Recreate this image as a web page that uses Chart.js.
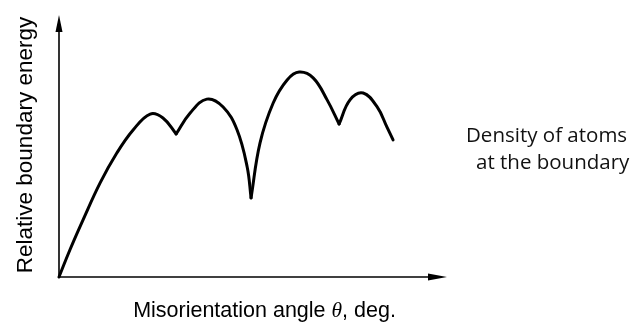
<!DOCTYPE html>
<html>
<head>
<meta charset="utf-8">
<script src="https://cdn.jsdelivr.net/npm/chart.js@4"></script>
<style>
  html, body { margin: 0; padding: 0; background: #fff; }
  #wrap { width: 637px; height: 324px; position: relative; }
</style>
</head>
<body>
<div id="wrap"><canvas id="c" width="637" height="324"></canvas></div>
<script>
// Misorientation angle (arbitrary units, 0-100 along the x axis) and relative energy (0-100)
const arc1X = [0, 2.8, 6.2, 10.6, 14.9, 19.1, 23.5, 26.8, 30.2];
const arc1Y = [0, 10.3, 21.8, 35.9, 47.3, 56.1, 62.2, 60.7, 54.6];
const arc2X = [30.2, 33.8, 38.1, 42.3, 45.9, 48.5, 49.5];
const arc2Y = [54.6, 62.6, 67.9, 64.9, 56.1, 42.0, 30.2];
const arc3X = [49.5, 51.8, 55.2, 58.8, 61.9, 65.5, 69.1, 72.2];
const arc3Y = [30.2, 51.1, 66.4, 75.2, 78.2, 76.0, 67.6, 58.4];
const arc4X = [72.2, 75.0, 78.4, 82.0, 84.5, 86.1];
const arc4Y = [58.4, 67.6, 70.2, 64.9, 57.3, 52.3];

const yLabel = 'Relative boundary energy';
const xLabelPre = 'Misorientation angle ';
const xLabelSym = 'θ';
const xLabelPost = ', deg.';
const noteLines = ['Density of atoms', 'at the boundary'];

function pts(xs, ys) { return xs.map((x, i) => ({ x: x, y: ys[i] })); }
function ds(xs, ys) {
  return {
    data: pts(xs, ys),
    borderColor: '#000',
    borderWidth: 3,
    pointRadius: 0,
    fill: false,
    tension: 0.4,
    borderCapStyle: 'round',
    clip: false
  };
}

const decor = {
  id: 'decor',
  afterDraw(chart) {
    const ctx = chart.ctx;
    const a = chart.chartArea;
    ctx.save();
    ctx.strokeStyle = '#000';
    ctx.fillStyle = '#000';
    ctx.lineWidth = 1.6;
    // y axis
    ctx.beginPath();
    ctx.moveTo(a.left, a.bottom);
    ctx.lineTo(a.left, a.top + 12);
    ctx.stroke();
    ctx.beginPath();
    ctx.moveTo(a.left, a.top);
    ctx.lineTo(a.left - 3.5, a.top + 17);
    ctx.lineTo(a.left + 3.5, a.top + 17);
    ctx.closePath();
    ctx.fill();
    // x axis
    ctx.beginPath();
    ctx.moveTo(a.left, a.bottom);
    ctx.lineTo(a.right - 12, a.bottom);
    ctx.stroke();
    ctx.beginPath();
    ctx.moveTo(a.right, a.bottom);
    ctx.lineTo(a.right - 19, a.bottom - 3.5);
    ctx.lineTo(a.right - 19, a.bottom + 3.5);
    ctx.closePath();
    ctx.fill();

    // y label
    ctx.save();
    ctx.font = '22.5px "Liberation Sans", Arial, sans-serif';
    ctx.textAlign = 'center';
    ctx.textBaseline = 'alphabetic';
    ctx.translate(32, 145);
    ctx.rotate(-Math.PI / 2);
    ctx.fillText(yLabel, 0, 0);
    ctx.restore();

    // x label
    const fSans = '21.5px "Liberation Sans", Arial, sans-serif';
    const fSym = 'italic 21.5px "Liberation Serif", "Times New Roman", serif';
    ctx.textAlign = 'left';
    ctx.textBaseline = 'alphabetic';
    ctx.font = fSans;
    const w1 = ctx.measureText(xLabelPre).width;
    const w3 = ctx.measureText(xLabelPost).width;
    ctx.font = fSym;
    const w2 = ctx.measureText(xLabelSym).width;
    let x0 = 264.5 - (w1 + w2 + w3) / 2;
    const yb = 317;
    ctx.font = fSans; ctx.fillText(xLabelPre, x0, yb);
    ctx.font = fSym; ctx.fillText(xLabelSym, x0 + w1, yb);
    ctx.font = fSans; ctx.fillText(xLabelPost, x0 + w1 + w2, yb);

    // note
    ctx.font = '20.5px "Open Sans", sans-serif';
    ctx.fillStyle = '#111';
    ctx.fillText(noteLines[0], 466, 142);
    ctx.fillText(noteLines[1], 476, 169);
    ctx.restore();
  }
};

new Chart(document.getElementById('c'), {
  type: 'line',
  data: { datasets: [ds(arc1X, arc1Y), ds(arc2X, arc2Y), ds(arc3X, arc3Y), ds(arc4X, arc4Y)] },
  options: {
    responsive: false,
    animation: false,
    events: [],
    layout: { padding: { left: 59, top: 15, right: 190, bottom: 47 } },
    plugins: { legend: { display: false }, tooltip: { enabled: false } },
    scales: {
      x: { type: 'linear', min: 0, max: 100, display: false },
      y: { type: 'linear', min: 0, max: 100, display: false }
    }
  },
  plugins: [decor]
});
</script>
</body>
</html>
